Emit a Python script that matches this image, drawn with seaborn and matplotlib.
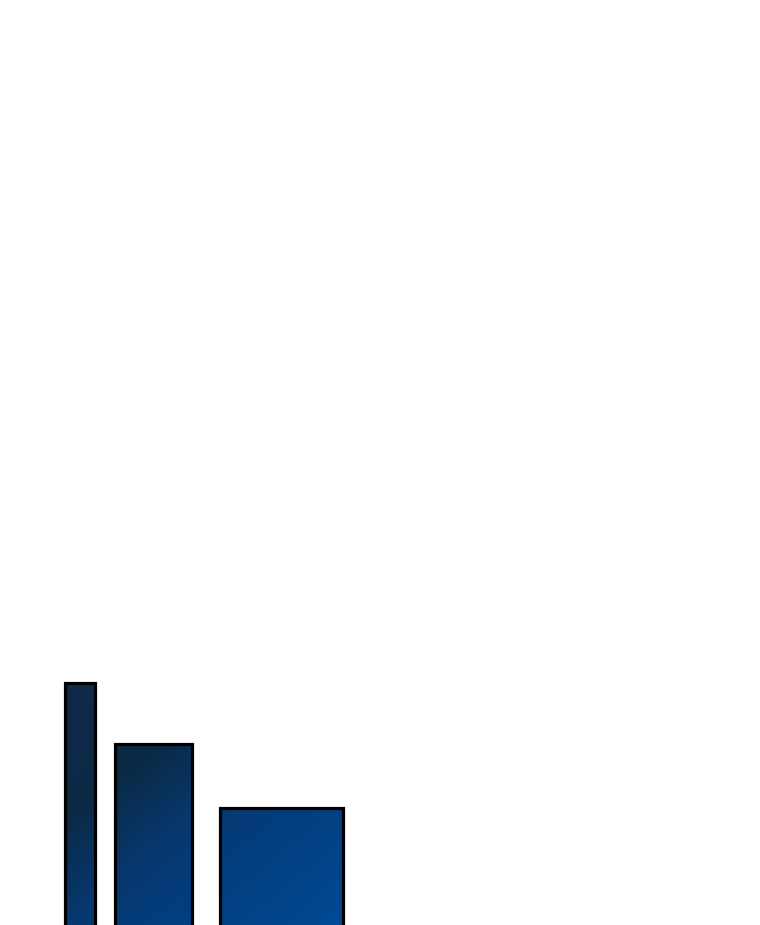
import numpy as np
import pandas as pd
import matplotlib
matplotlib.use("Agg")
import matplotlib.pyplot as plt
from matplotlib.colors import LinearSegmentedColormap
import seaborn as sns

# ---- data ----
categories = ["A", "B", "C"]
values = [27.2, 20.6, 13.65]
bar_left = [8.49, 15.07, 29.01]
bar_width = [3.95, 10.13, 16.18]

sns.set_theme(style="white")
fig = plt.figure(figsize=(7.6, 9.25), dpi=100)
ax = fig.add_axes([0, 0, 1, 1])

df = pd.DataFrame({"cat": categories, "val": values})
sns.barplot(data=df, x="cat", y="val", ax=ax, color="#0a2b47",
            edgecolor="black", linewidth=2.3, errorbar=None)

ax.set_xlim(0, 100)
ax.set_ylim(1, 101)
ax.set_axis_off()

# gradient in figure-pixel space (mostly vertical, some horizontal)
W, H = 760, 925
xx, yy = np.meshgrid(np.arange(W), np.arange(H))
s = 0.8 * xx + yy
stops = [(740, "#11294a"), (870, "#0a2a45"), (970, "#08386e"),
         (1040, "#033d7c"), (1200, "#004a95")]
lo, hi = stops[0][0], stops[-1][0]
cmap = LinearSegmentedColormap.from_list(
    "g", [((v - lo) / (hi - lo), c) for v, c in stops])
grad = np.clip((s - lo) / (hi - lo), 0, 1)

for p, l, w in zip(ax.patches, bar_left, bar_width):
    p.set_x(l)
    p.set_width(w)
    p.set_facecolor("none")
    p.set_zorder(3)
    im = ax.imshow(grad, cmap=cmap, vmin=0, vmax=1, extent=(0, 100, 1, 101),
                   origin="upper", aspect="auto", zorder=2, interpolation="bilinear")
    im.set_clip_path(p)

ax.set_xlim(0, 100)
ax.set_ylim(1, 101)
fig.savefig("out.png", dpi=100, facecolor="white")
